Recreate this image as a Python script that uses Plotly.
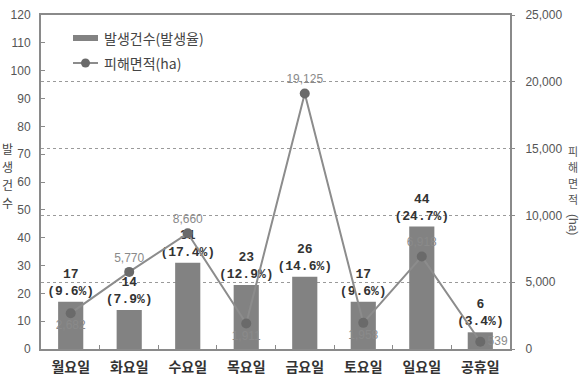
import plotly.graph_objects as go

categories = ["월요일", "화요일", "수요일", "목요일", "금요일", "토요일", "일요일", "공휴일"]
counts = [17, 14, 31, 23, 26, 17, 44, 6]
rates = [9.6, 7.9, 17.4, 12.9, 14.6, 9.6, 24.7, 3.4]
areas = [2682, 5770, 8660, 1911, 19125, 1958, 6918, 539]
area_label_pos = ["bottom center", "top center", "top center", "bottom center",
                  "top center", "bottom center", "top center", "middle right"]

left_ticks = list(range(0, 121, 10))
right_ticks = list(range(0, 25001, 5000))

bar_text = [f"{c}<br>({r}%)" for c, r in zip(counts, rates)]
area_text = [f"{a:,}" for a in areas]

fig = go.Figure()
fig.add_trace(go.Bar(
    x=categories, y=counts, name="발생건수(발생율)",
    marker=dict(color="#828282", line=dict(width=0)),
    text=bar_text, textposition="outside", cliponaxis=False, constraintext="none",
    textfont=dict(family="Liberation Mono", size=13, color="#333333", weight="bold"),
    showlegend=False,
))
fig.add_trace(go.Scatter(
    x=categories, y=areas, name="피해면적(ha)", yaxis="y2",
    mode="lines+markers+text",
    line=dict(color="#8c8c8c", width=2),
    marker=dict(color="#6a6a6a", size=10),
    text=area_text, textposition=area_label_pos, cliponaxis=False,
    textfont=dict(family="Arial", size=12, color="#8a8a8a"),
    showlegend=False,
))

W, H = 586, 380
L, R, T, B = 41, 76, 15, 31
pw = W - L - R
ph = H - T - B

def px(x):
    return (x - L) / pw

def py(y):
    return 1 - (y - T) / ph

shapes = [
    dict(type="line", xref="paper", yref="paper", x0=px(73), x1=px(98), y0=py(38), y1=py(38),
         line=dict(color="#828282", width=6)),
    dict(type="line", xref="paper", yref="paper", x0=px(73), x1=px(98), y0=py(63), y1=py(63),
         line=dict(color="#8c8c8c", width=2)),
    dict(type="circle", xref="paper", yref="paper", x0=px(81), x1=px(90), y0=py(58.5), y1=py(67.5),
         fillcolor="#6a6a6a", line=dict(width=0)),
]

annotations = [
    dict(text="발생건수(발생율)", xref="paper", yref="paper", x=px(102), y=py(38),
         xanchor="left", yanchor="middle", showarrow=False,
         font=dict(family="Noto Sans CJK KR", size=14, color="#444444")),
    dict(text="피해면적(ha)", xref="paper", yref="paper", x=px(102), y=py(63),
         xanchor="left", yanchor="middle", showarrow=False,
         font=dict(family="Noto Sans CJK KR", size=14, color="#444444")),
]
for ch, yy in zip("발생건수", [148, 166, 184, 202]):
    annotations.append(dict(text=ch, xref="paper", yref="paper", x=px(7), y=py(yy),
                            xanchor="center", yanchor="middle", showarrow=False,
                            font=dict(family="Noto Sans CJK KR", size=12, color="#444444")))
for ch, yy in zip("피해면적", [151, 167, 183, 199]):
    annotations.append(dict(text=ch, xref="paper", yref="paper", x=px(573), y=py(yy),
                            xanchor="center", yanchor="middle", showarrow=False,
                            font=dict(family="Noto Sans CJK KR", size=11, color="#555555")))
annotations.append(dict(text="(ha)", xref="paper", yref="paper", x=px(573), y=py(224),
                        xanchor="center", yanchor="middle", showarrow=False, textangle=90,
                        font=dict(family="Arial", size=12, color="#555555")))

fig.update_layout(
    width=W, height=H,
    margin=dict(l=L, r=R, t=T, b=B, pad=0),
    paper_bgcolor="white", plot_bgcolor="white",
    bargap=0.57,
    shapes=shapes, annotations=annotations,
    xaxis=dict(
        type="category", showline=True, linecolor="#8a8a8a", linewidth=2, mirror=True,
        ticks="inside", ticklen=4, tickcolor="#8a8a8a", tickson="boundaries",
        showgrid=False, automargin=False,
        tickfont=dict(family="Noto Sans CJK KR", size=14, color="#333333", weight="bold"),
        ticklabelstandoff=4,
    ),
    yaxis=dict(
        range=[0, 120], tickvals=left_ticks, showgrid=False, zeroline=False,
        showline=True, linecolor="#8a8a8a", linewidth=2, automargin=False,
        ticks="inside", ticklen=4, tickcolor="#8a8a8a",
        tickfont=dict(family="Arial", size=12, color="#555555"),
        ticklabelstandoff=6,
    ),
    yaxis2=dict(
        range=[0, 25000], tickvals=right_ticks, tickformat=",", overlaying="y", side="right",
        showgrid=True, gridcolor="#9a9a9a", griddash="dot", gridwidth=1, zeroline=False,
        showline=True, linecolor="#8a8a8a", linewidth=2, automargin=False,
        ticks="outside", ticklen=3, tickcolor="#8a8a8a",
        tickfont=dict(family="Arial", size=12, color="#555555"),
        ticklabelstandoff=8,
    ),
)

fig.write_html("out.html")
